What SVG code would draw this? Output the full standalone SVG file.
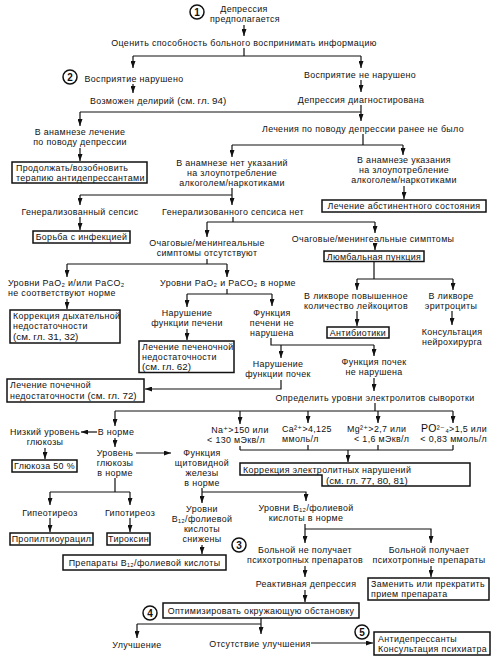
<svg xmlns="http://www.w3.org/2000/svg" width="499" height="660" viewBox="0 0 499 660">
<style>
text{font-family:"Liberation Sans","DejaVu Sans",Arial,sans-serif;font-size:8.9px;letter-spacing:0.35px;fill:#111}
.m{text-anchor:middle}
.e{text-anchor:end}
.r{font-size:9.8px;letter-spacing:0}
.box{fill:#fff;stroke:#111;stroke-width:1.5}
.num{fill:#fff;stroke:#111;stroke-width:1.5}
.nt{font-weight:bold;font-size:10px;letter-spacing:0;text-anchor:middle}
.c path{fill:none;stroke:#111;stroke-width:1.2}
.c path.a{marker-end:url(#ah)}
</style>
<defs>
<marker id="ah" viewBox="0 0 7 5" markerUnits="userSpaceOnUse" markerWidth="7" markerHeight="5" refX="7" refY="2.5" orient="auto">
<path d="M0,0 L7,2.5 L0,5 z" fill="#111"/>
</marker>
</defs>
<rect width="499" height="660" fill="#fff"/>

<g class="c" id="connectors">
<path class="a" d="M244,25 V36"/>
<path d="M244,48 V56 M133,56 H361"/>
<path class="a" d="M133,56 V68"/>
<path class="a" d="M361,56 V68"/>
<path class="a" d="M133,84 V93"/>
<path class="a" d="M361,80 V92"/>
<path class="a" d="M361,105 V121"/>
<path d="M80,112 H361"/>
<path class="a" d="M80,112 V126"/>
<path class="a" d="M80,148 V161"/>
<path d="M363,134 V145 M232,145 H403"/>
<path class="a" d="M232,145 V157"/>
<path class="a" d="M403,145 V155"/>
<path class="a" d="M404,186 V199"/>
<path class="a" d="M232,188 V205"/>
<path d="M80,195 H232"/>
<path class="a" d="M80,195 V205"/>
<path class="a" d="M80,217 V230"/>
<path d="M233,217 V222 M207,222 H375"/>
<path class="a" d="M207,222 V237"/>
<path class="a" d="M375,222 V233"/>
<path class="a" d="M375,243 V250"/>
<path d="M374,261 V279 M357,279 H453"/>
<path class="a" d="M357,279 V290"/>
<path class="a" d="M453,279 V290"/>
<path class="a" d="M357,311 V326"/>
<path class="a" d="M452,311 V325"/>
<path d="M207,259 V264 M67,264 H227"/>
<path class="a" d="M67,264 V277"/>
<path class="a" d="M227,264 V277"/>
<path class="a" d="M67,299 V309"/>
<path d="M227,289 V294 M187,294 H272"/>
<path class="a" d="M187,294 V307"/>
<path class="a" d="M272,294 V306"/>
<path class="a" d="M187,329 V340"/>
<path d="M271,338 V345 H374"/>
<path class="a" d="M281,345 V358"/>
<path class="a" d="M374,345 V356"/>
<path class="a" d="M281,380 V389 H145"/>
<path class="a" d="M374,378 V391"/>
<path d="M375,403 V411 M115,411 H453"/>
<path class="a" d="M115,411 V426"/>
<path class="a" d="M240,411 V424"/>
<path class="a" d="M308,411 V423"/>
<path class="a" d="M378,411 V423"/>
<path class="a" d="M453,411 V423"/>
<path class="a" d="M97,432 H81"/>
<path class="a" d="M45,448 V459"/>
<path class="a" d="M115,438 V447"/>
<path class="a" d="M136,453 H171"/>
<path d="M240,446 V450 M308,445 V450 M378,445 V450 M453,445 V450 M240,450 H453"/>
<path class="a" d="M348,450 V462"/>
<path d="M115,478 V492 M50,492 H130"/>
<path class="a" d="M50,492 V505"/>
<path class="a" d="M130,492 V505"/>
<path class="a" d="M50,518 V532"/>
<path class="a" d="M130,518 V532"/>
<path class="a" d="M202,488 V503"/>
<path class="a" d="M202,492 H306 V501"/>
<path class="a" d="M202,545 V554"/>
<path class="a" d="M305,524 V543"/>
<path class="a" d="M305,529 H431 V543"/>
<path class="a" d="M305,566 V577"/>
<path class="a" d="M431,566 V577"/>
<path class="a" d="M305,590 V602"/>
<path class="a" d="M261,618 V634"/>
<path d="M137,624 H261"/>
<path class="a" d="M137,624 V638"/>
<path class="a" d="M311,643 H373"/>
</g>

<g id="num1"><circle class="num" cx="197" cy="12" r="7"/><text class="nt" x="197" y="15.5">1</text></g>
<g id="num2"><circle class="num" cx="70" cy="77" r="7"/><text class="nt" x="70" y="80.5">2</text></g>
<g id="num3"><circle class="num" cx="239" cy="545" r="7"/><text class="nt" x="239" y="548.5">3</text></g>
<g id="num4"><circle class="num" cx="150" cy="613" r="7"/><text class="nt" x="150" y="616.5">4</text></g>
<g id="num5"><circle class="num" cx="362" cy="632" r="7"/><text class="nt" x="362" y="635.5">5</text></g>

<g id="n-start"><text class="m"><tspan x="244" y="12">Депрессия</tspan><tspan x="245" y="22">предполагается</tspan></text></g>
<g id="n-assess"><text class="m" x="244" y="46">Оценить способность больного воспринимать информацию</text></g>
<g id="n-perc-bad"><text class="m" x="134" y="81.5">Восприятие нарушено</text></g>
<g id="n-perc-ok"><text class="m" x="360" y="77.5">Восприятие не нарушено</text></g>
<g id="n-delirium"><text x="90" y="103.5">Возможен делирий <tspan class="r">(см. гл. 94)</tspan></text></g>
<g id="n-dep-dx"><text class="m" x="361" y="102.5">Депрессия диагностирована</text></g>
<g id="n-hist-tx"><text class="m"><tspan x="80" y="135">В анамнезе лечение</tspan><tspan x="80" y="145">по поводу депрессии</tspan></text></g>
<g id="n-no-tx"><text class="m" x="363" y="131.5">Лечения по поводу депрессии ранее не было</text></g>
<g id="n-continue"><rect class="box" x="12" y="162" width="135" height="21"/><text><tspan x="16" y="170.5">Продолжать/возобновить</tspan><tspan x="16" y="180.5">терапию антидепрессантами</tspan></text></g>
<g id="n-no-abuse"><text class="m"><tspan x="232" y="165.5">В анамнезе нет указаний</tspan><tspan x="232" y="175.5">на злоупотребление</tspan><tspan x="232" y="185.5">алкоголем/наркотиками</tspan></text></g>
<g id="n-abuse"><text class="m"><tspan x="404" y="163">В анамнезе указания</tspan><tspan x="404" y="173">на злоупотребление</tspan><tspan x="404" y="183">алкоголем/наркотиками</tspan></text></g>
<g id="n-withdrawal"><rect class="box" x="322" y="200" width="164" height="12"/><text class="m" x="404" y="209.2">Лечение абстинентного состояния</text></g>
<g id="n-sepsis"><text class="m" x="80" y="214.5">Генерализованный сепсис</text></g>
<g id="n-no-sepsis"><text class="m" x="233" y="214.5">Генерализованного сепсиса нет</text></g>
<g id="n-infection"><rect class="box" x="33" y="231" width="97" height="12"/><text class="m" x="81.5" y="240.2">Борьба с инфекцией</text></g>
<g id="n-no-focal"><text class="m"><tspan x="207" y="246">Очаговые/менингеальные</tspan><tspan x="207" y="256">симптомы отсутствуют</tspan></text></g>
<g id="n-focal"><text class="m" x="373" y="241.5">Очаговые/менингеальные симптомы</text></g>
<g id="n-lumbar"><rect class="box" x="324" y="251" width="100" height="10.5"/><text class="m" x="374" y="259.5">Люмбальная пункция</text></g>
<g id="n-csf-wbc"><text class="m"><tspan x="356" y="299">В ликворе повышенное</tspan><tspan x="356" y="309">количество лейкоцитов</tspan></text></g>
<g id="n-csf-rbc"><text class="m"><tspan x="451" y="299">В ликворе</tspan><tspan x="451" y="309">эритроциты</tspan></text></g>
<g id="n-antibiotics"><rect class="box" x="327" y="327" width="62" height="11"/><text class="m" x="358" y="335.5">Антибиотики</text></g>
<g id="n-neurosurg"><text class="m"><tspan x="452" y="335">Консультация</tspan><tspan x="452" y="345">нейрохирурга</tspan></text></g>
<g id="n-gas-bad"><text><tspan x="8" y="286">Уровни PaO₂ и/или PaCO₂</tspan><tspan x="8" y="296">не соответствуют норме</tspan></text></g>
<g id="n-gas-ok"><text class="m" x="228" y="286">Уровни PaO₂ и PaCO₂ в норме</text></g>
<g id="n-resp"><rect class="box" x="10" y="310" width="110" height="33"/><text><tspan x="13" y="318.5">Коррекция дыхательной</tspan><tspan x="13" y="328.5">недостаточности</tspan><tspan class="r" x="13" y="339.5">(см. гл. 31, 32)</tspan></text></g>
<g id="n-liver-bad"><text class="m"><tspan x="187" y="316">Нарушение</tspan><tspan x="187" y="326">функции печени</tspan></text></g>
<g id="n-liver-ok"><text class="m"><tspan x="272" y="315.5">Функция</tspan><tspan x="272" y="325.5">печени не</tspan><tspan x="272" y="335.5">нарушена</tspan></text></g>
<g id="n-liver-tx"><rect class="box" x="139" y="341" width="95" height="31.5"/><text><tspan x="142" y="349.5">Лечение печеночной</tspan><tspan x="142" y="359.5">недостаточности</tspan><tspan class="r" x="142" y="370.3">(см. гл. 62)</tspan></text></g>
<g id="n-kidney-bad"><text class="m"><tspan x="278" y="367">Нарушение</tspan><tspan x="278" y="377">функции почек</tspan></text></g>
<g id="n-kidney-ok"><text class="m"><tspan x="374" y="365">Функция почек</tspan><tspan x="374" y="375">не нарушена</tspan></text></g>
<g id="n-kidney-tx"><rect class="box" x="7" y="379" width="137" height="23"/><text><tspan x="10" y="387.5">Лечение почечной</tspan><tspan x="10" y="398.5">недостаточности <tspan class="r">(см. гл. 72)</tspan></tspan></text></g>
<g id="n-electrolytes"><text class="m" x="375" y="400.5">Определить уровни электролитов сыворотки</text></g>
<g id="n-normal"><text class="m" x="116" y="435">В норме</text></g>
<g id="n-low-glu"><text class="m"><tspan x="45" y="435">Низкий уровень</tspan><tspan x="45" y="445">глюкозы</tspan></text></g>
<g id="n-glucose"><rect class="box" x="12" y="460" width="65" height="12"/><text class="m" x="44.5" y="469.2">Глюкоза 50 %</text></g>
<g id="n-na"><text class="m"><tspan x="240" y="433">Na⁺&gt;150 или</tspan><tspan x="236" y="443">&lt; 130 мЭкв/л</tspan></text></g>
<g id="n-ca"><text><tspan x="282" y="432">Ca²⁺&gt;4,125</tspan><tspan x="282" y="442">ммоль/л</tspan></text></g>
<g id="n-mg"><text><tspan x="347" y="432">Mg²⁺&gt;2,7 или</tspan><tspan x="354" y="442">&lt; 1,6 мЭкв/л</tspan></text></g>
<g id="n-po"><text class="e"><tspan x="487" y="432"><tspan font-size="10.5">PO</tspan>²⁻₄&gt;1,5 или</tspan><tspan x="487" y="442">&lt; 0,83 ммоль/л</tspan></text></g>
<g id="n-lyte-tx"><path class="box" d="M240,463 H470 V486 H322 V475 H240 Z"/><text><tspan x="243" y="472.5">Коррекция электролитных нарушений</tspan><tspan class="r" x="326" y="483.6">(см. гл. 77, 80, 81)</tspan></text></g>
<g id="n-glu-ok"><text class="m"><tspan x="115" y="455.5">Уровень</tspan><tspan x="115" y="465.5">глюкозы</tspan><tspan x="115" y="475.5">в норме</tspan></text></g>
<g id="n-thyroid-ok"><text class="m"><tspan x="202" y="455.5">Функция</tspan><tspan x="202" y="465.5">щитовидной</tspan><tspan x="202" y="475.5">железы</tspan><tspan x="202" y="485.5">в норме</tspan></text></g>
<g id="n-hyper"><text class="m" x="50" y="515.5">Гипеотиреоз</text></g>
<g id="n-hypo"><text class="m" x="130" y="515.5">Гипотиреоз</text></g>
<g id="n-ptu"><rect class="box" x="10" y="533" width="83" height="12"/><text class="m" x="51.5" y="542.2">Пропилтиоурацил</text></g>
<g id="n-thyroxine"><rect class="box" x="107" y="533" width="43" height="12"/><text class="m" x="128.5" y="542.2">Тироксин</text></g>
<g id="n-b12-low"><text class="m"><tspan x="202" y="512">Уровни</tspan><tspan x="202" y="522">B₁₂/фолиевой</tspan><tspan x="202" y="532">кислоты</tspan><tspan x="202" y="542">снижены</tspan></text></g>
<g id="n-b12-ok"><text class="m"><tspan x="306" y="511">Уровни B₁₂/фолиевой</tspan><tspan x="306" y="521">кислоты в норме</tspan></text></g>
<g id="n-b12-tx"><rect class="box" x="63" y="555" width="163" height="15"/><text class="m" x="144.5" y="565.8">Препараты B₁₂/фолиевой кислоты</text></g>
<g id="n-no-psy"><text class="m"><tspan x="305" y="553">Больной не получает</tspan><tspan x="305" y="563">психотропных препаратов</tspan></text></g>
<g id="n-psy"><text class="m"><tspan x="429" y="553">Больной получает</tspan><tspan x="429" y="563">психотропные препараты</tspan></text></g>
<g id="n-reactive"><text class="m" x="306" y="586.5">Реактивная депрессия</text></g>
<g id="n-replace"><rect class="box" x="368" y="578" width="121" height="22"/><text><tspan x="371" y="587">Заменить или прекратить</tspan><tspan x="371" y="597">прием препарата</tspan></text></g>
<g id="n-optimize"><rect class="box" x="163" y="603" width="196" height="15"/><text class="m" x="261" y="613.8">Оптимизировать окружающую обстановку</text></g>
<g id="n-better"><text class="m" x="137" y="648">Улучшение</text></g>
<g id="n-no-better"><text class="m" x="260" y="646.5">Отсутствие улучшения</text></g>
<g id="n-antidep"><rect class="box" x="374" y="632" width="116" height="23"/><text><tspan x="378" y="641.5">Антидепрессанты</tspan><tspan x="378" y="651.5">Консультация психиатра</tspan></text></g>
</svg>
